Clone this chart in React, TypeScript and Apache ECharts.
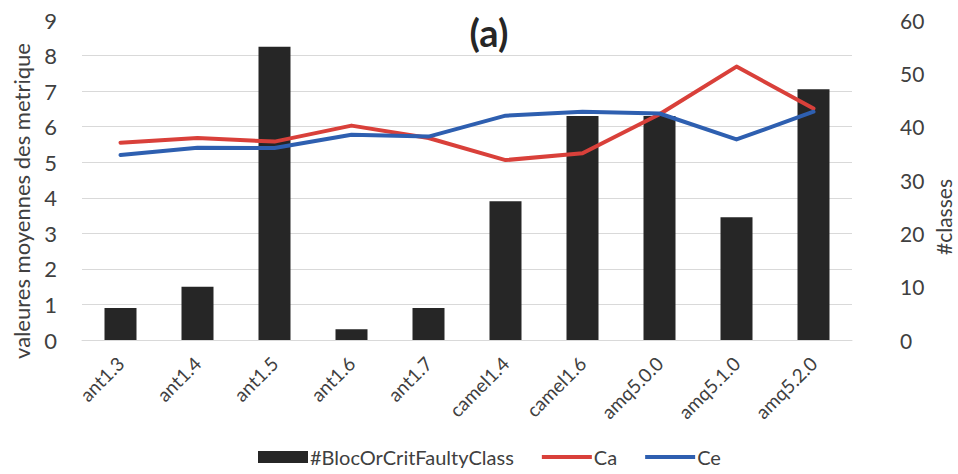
import React, { useEffect, useRef } from "react";
import * as echarts from "echarts";

// Project versions on the x axis
const versions = [
  "ant1.3", "ant1.4", "ant1.5", "ant1.6", "ant1.7",
  "camel1.4", "camel1.6", "amq5.0.0", "amq5.1.0", "amq5.2.0",
];

// Number of blocking / critical faulty classes (right axis)
const faultyClasses = [6, 10, 55, 2, 6, 26, 42, 42, 23, 47];

// Mean afferent coupling (left axis)
const caValues = [5.55, 5.68, 5.58, 6.03, 5.68, 5.06, 5.25, 6.35, 7.69, 6.51];

// Mean efferent coupling (left axis)
const ceValues = [5.2, 5.41, 5.4, 5.77, 5.72, 6.31, 6.42, 6.37, 5.64, 6.42];

const leftTicks = { min: 0, max: 9, interval: 1 };
const rightTicks = { min: 0, max: 60, interval: 10 };

const FONT = "Lato";
const TEXT = "#404040";
const RED = "#d9403a";
const BLUE = "#2e5fb0";

// thin bar used as the legend mark of the two lines
const lineIcon = "path://M0,0H50V4H0Z";

export default function App() {
  const ref = useRef<HTMLDivElement>(null);

  useEffect(() => {
    if (!ref.current) return;
    const chart = echarts.init(ref.current, undefined, { renderer: "svg" });

    // grid lines at every left tick except the top one
    const gridColors = Array.from({ length: 10 }, (_, i) => (i === 9 ? "rgba(0,0,0,0)" : "#d9d9d9"));

    chart.setOption({
      animation: false,
      backgroundColor: "#ffffff",
      textStyle: { fontFamily: FONT },
      grid: { left: 82, right: 106, top: 20, bottom: 134, containLabel: false },
      graphic: [
        {
          type: "text",
          x: 489,
          y: 32,
          style: {
            text: "(a)",
            font: `bold 38px ${FONT}`,
            fill: "#262626",
            align: "center",
            verticalAlign: "middle",
          },
        },
        {
          type: "text",
          x: 21,
          y: 201,
          rotation: Math.PI / 2,
          style: {
            text: "valeures moyennes des metrique",
            font: `22px ${FONT}`,
            fill: TEXT,
            align: "center",
            verticalAlign: "middle",
          },
        },
        {
          type: "text",
          x: 943,
          y: 217,
          rotation: Math.PI / 2,
          style: {
            text: "#classes",
            font: `21px ${FONT}`,
            fill: TEXT,
            align: "center",
            verticalAlign: "middle",
          },
        },
      ],
      legend: {
        bottom: 2,
        left: 253,
        itemWidth: 50,
        itemHeight: 12,
        itemGap: 28,
        textStyle: { fontFamily: FONT, fontSize: 20, color: TEXT, padding: [0, 0, 0, -3] },
        data: [
          { name: "#BlocOrCritFaultyClass", icon: "rect" },
          { name: "Ca", icon: lineIcon },
          { name: "Ce", icon: lineIcon },
        ],
      },
      xAxis: {
        type: "category",
        data: versions,
        axisLine: { lineStyle: { color: "#d9d9d9", width: 1 } },
        axisTick: { show: false },
        axisLabel: {
          rotate: 45,
          margin: 20,
          interval: 0,
          fontFamily: FONT,
          fontSize: 19,
          color: TEXT,
        },
      },
      yAxis: [
        {
          type: "value",
          ...leftTicks,
          position: "left",
          axisLine: { show: false },
          axisTick: { show: false },
          axisLabel: { margin: 25, fontFamily: FONT, fontSize: 22, color: TEXT },
          splitLine: { lineStyle: { color: gridColors, width: 1 } },
        },
        {
          type: "value",
          ...rightTicks,
          position: "right",
          axisLine: { show: false },
          axisTick: { show: false },
          axisLabel: { margin: 48, fontFamily: FONT, fontSize: 21, color: TEXT },
          splitLine: { show: false },
        },
      ],
      series: [
        {
          name: "#BlocOrCritFaultyClass",
          type: "bar",
          yAxisIndex: 1,
          data: faultyClasses,
          barWidth: 32,
          itemStyle: { color: "#262626" },
          z: 2,
        },
        {
          name: "Ca",
          type: "line",
          yAxisIndex: 0,
          data: caValues,
          symbol: "none",
          lineStyle: { color: RED, width: 4, join: "round", cap: "round" },
          itemStyle: { color: RED },
          z: 3,
        },
        {
          name: "Ce",
          type: "line",
          yAxisIndex: 0,
          data: ceValues,
          symbol: "none",
          lineStyle: { color: BLUE, width: 4, join: "round", cap: "round" },
          itemStyle: { color: BLUE },
          z: 4,
        },
      ],
    });

    return () => chart.dispose();
  }, []);

  return (
    <div
      ref={ref}
      style={{ position: "absolute", left: 0, top: 0, width: 958, height: 474 }}
    />
  );
}
